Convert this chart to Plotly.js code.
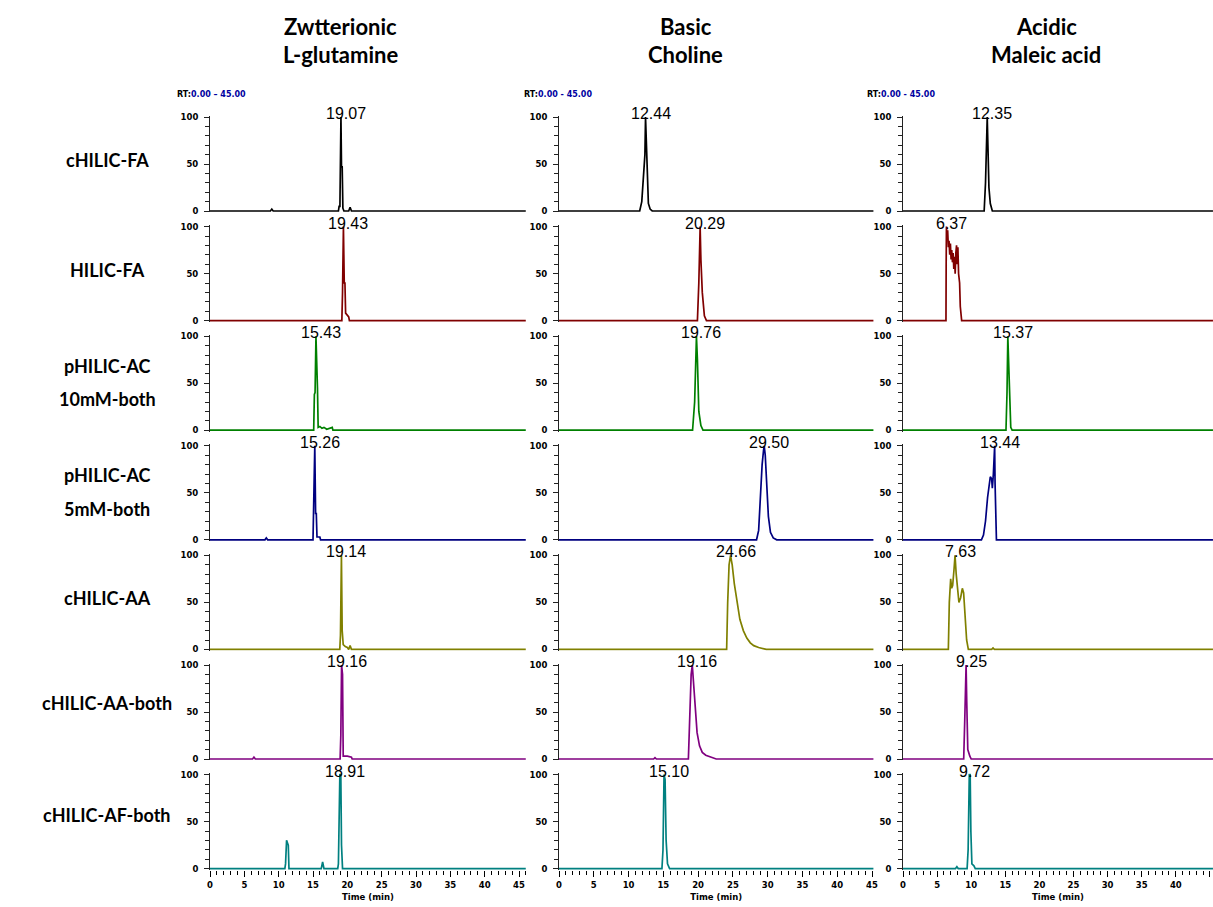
<!DOCTYPE html>
<html><head><meta charset="utf-8">
<script src="https://cdn.plot.ly/plotly-3.0.1.min.js"></script>
<style>html,body{margin:0;padding:0;background:#fff}#chart{width:1213px;height:907px}</style>
</head><body><div id="chart"></div>
<script>
// ---------- categories / labels ----------
const methodLines = [['cHILIC-FA'],['HILIC-FA'],['pHILIC-AC','10mM-both'],['pHILIC-AC','5mM-both'],['cHILIC-AA'],['cHILIC-AA-both'],['cHILIC-AF-both']];
const analyteLines = [['Zwtterionic','L-glutamine'],['Basic','Choline'],['Acidic','Maleic acid']];
const traceColors = ['#000000','#800000','#008000','#000080','#808000','#800080','#008080'];
const rtLabels = ['0.00 \u2013 45.00','0.00 - 45.00','0.00 - 45.00'];
const timeTitle = 'Time (min)';

// ---------- peak apex retention times (labels) ----------
const glnPeaks = [19.07,19.43,15.43,15.26,19.14,19.16,18.91];
const chlPeaks = [12.44,20.29,19.76,29.50,24.66,19.16,15.10];
const malPeaks = [12.35,6.37,15.37,13.44,7.63,9.25,9.72];

// ---------- L-glutamine chromatograms (time min, relative abundance %) ----------
const gln1T = [0,8.8,9.0,9.2,18.7,18.8,18.92,19.0,19.07,19.15,19.25,19.35,19.5,20.2,20.4,20.6,46];
const gln1I = [0,0,2,0,0,5,5,90,100,47,47,3,0,0,4,0,0];
const gln2T = [0,19.2,19.3,19.43,19.55,19.65,19.75,20.0,20.2,20.3,46];
const gln2I = [0,0,30,100,40,40,8,5,4,0,0];
const gln3T = [0,15.1,15.2,15.3,15.43,15.55,15.65,15.75,16.0,16.3,16.6,17.0,17.4,17.8,17.9,46];
const gln3I = [0,0,38,40,100,45,45,3,4,2,3,1,2,3,0,0];
const gln4T = [0,8.0,8.2,8.4,15.0,15.1,15.18,15.26,15.38,15.48,15.58,16.0,16.1,46];
const gln4I = [0,0,2,0,0,35,35,100,28,28,3,3,0,0];
const gln5T = [0,18.9,19.0,19.14,19.25,19.4,19.7,20.0,20.2,20.4,20.6,46];
const gln5I = [0,0,15,100,20,5,3,2,0,4,0,0];
const gln6T = [0,6.2,6.4,6.6,18.95,19.05,19.16,19.3,19.4,20.0,20.6,20.7,46];
const gln6I = [0,0,2,0,0,25,100,90,3,3,2,0,0];
const gln7T = [0,10.9,11.0,11.15,11.3,11.4,11.5,16.2,16.4,16.6,18.6,18.7,18.91,19.05,19.15,19.3,46];
const gln7I = [0,0,5,30,27,25,0,0,7,0,0,5,100,100,25,0,0];

// ---------- Choline chromatograms ----------
const chl1T = [0,11.6,11.9,12.2,12.35,12.44,12.55,12.7,12.85,13.1,13.4,46];
const chl1I = [0,0,10,45,60,100,75,40,8,2,0,0];
const chl2T = [0,19.9,20.1,20.29,20.4,20.6,20.9,21.2,46];
const chl2I = [0,0,40,100,65,30,5,0,0];
const chl3T = [0,19.2,19.5,19.65,19.76,19.9,20.1,20.4,20.7,46];
const chl3I = [0,0,30,70,100,75,20,5,0,0];
const chl4T = [0,28.4,28.7,28.95,29.2,29.4,29.5,29.65,29.85,30.1,30.4,30.8,31.3,46];
const chl4I = [0,0,10,50,80,95,100,90,60,25,8,2,0,0];
const chl5T = [0,24.1,24.25,24.45,24.66,24.9,25.2,25.6,26.0,26.5,27.0,27.5,28.0,28.7,29.6,29.8,46];
const chl5I = [0,0,50,90,100,90,70,50,32,20,12,7,4,2,1,0,0];
const chl6T = [0,13.6,13.8,14.0,18.6,18.8,19.0,19.16,19.35,19.6,19.85,20.2,20.6,21.1,21.8,22.6,46];
const chl6I = [0,0,1.5,0,0,40,90,100,80,50,28,14,7,4,2,0,0];
const chl7T = [0,14.8,14.95,15.1,15.25,15.4,15.6,15.9,46];
const chl7I = [0,0,20,100,95,30,5,0,0];

// ---------- Maleic acid chromatograms ----------
const mal1T = [0,11.9,12.1,12.25,12.35,12.45,12.6,12.8,13.1,46];
const mal1I = [0,0,30,85,100,70,25,8,0,0];
const mal2T = [0,6.30,6.33,6.37,6.45,6.55,6.65,6.75,6.85,6.95,7.05,7.15,7.25,7.35,7.45,7.55,7.65,7.75,7.85,7.95,8.05,8.15,8.3,8.4,8.5,8.6,46];
const mal2I = [0,0,60,100,88,96,78,85,70,82,65,75,62,72,55,68,50,72,80,60,78,50,40,15,5,0,0];
const mal3T = [0,15.1,15.25,15.37,15.5,15.65,15.8,16.0,46];
const mal3I = [0,0,40,100,70,20,3,0,0];
const mal4T = [0,11.5,11.8,12.1,12.4,12.6,12.8,13.0,13.1,13.25,13.35,13.44,13.5,13.6,13.7,46];
const mal4I = [0,0,5,20,45,60,67,65,55,70,90,100,60,10,0,0];
const mal5T = [0,6.65,6.79,6.99,7.13,7.28,7.48,7.63,7.8,8.0,8.2,8.45,8.7,8.89,9.09,9.33,9.58,13.0,13.2,13.4,46];
const mal5I = [0,0,50,75,65,68,85,100,80,60,50,55,65,60,40,10,0,0,1.5,0,0];
const mal6T = [0,8.9,9.05,9.15,9.25,9.35,9.5,9.8,10.0,46];
const mal6I = [0,0,40,95,100,60,10,3,0,0];
const mal7T = [0,7.7,7.9,8.1,9.4,9.55,9.72,9.85,9.95,10.1,10.4,10.6,46];
const mal7I = [0,0,2,0,0,20,100,100,40,5,3,0,0];

const seriesT = [
  [gln1T,chl1T,mal1T],[gln2T,chl2T,mal2T],[gln3T,chl3T,mal3T],[gln4T,chl4T,mal4T],
  [gln5T,chl5T,mal5T],[gln6T,chl6T,mal6T],[gln7T,chl7T,mal7T]];
const seriesI = [
  [gln1I,chl1I,mal1I],[gln2I,chl2I,mal2I],[gln3I,chl3I,mal3I],[gln4I,chl4I,mal4I],
  [gln5I,chl5I,mal5I],[gln6I,chl6I,mal6I],[gln7I,chl7I,mal7I]];
const peaks = [glnPeaks, chlPeaks, malPeaks];

// ---------- layout geometry (pixels) ----------
const W = 1213, H = 907;
const px = x => x / W, py = y => 1 - y / H;
const colX0 = [210, 559, 903];
const colPPM = [6.867, 6.956, 6.82];
const colMax = [46, 45.2, 45.45];
const rowZero = r => 211 + r * 109.6;
const rowPPU = 0.94;
const yLo = -1.5, yHi = 101.5;
const tickFont = {family: 'DejaVu Sans', size: 8.5, color: '#000', weight: 'bold'};

const data = [];
const layout = {
  width: W, height: H,
  margin: {l: 0, r: 0, t: 0, b: 0},
  showlegend: false,
  paper_bgcolor: '#fff', plot_bgcolor: '#fff',
  annotations: []
};

for (let r = 0; r < 7; r++) {
  for (let c = 0; c < 3; c++) {
    const k = r * 3 + c + 1;
    const xa = 'x' + (k === 1 ? '' : k), ya = 'y' + (k === 1 ? '' : k);
    data.push({
      type: 'scatter', mode: 'lines',
      x: seriesT[r][c], y: seriesI[r][c],
      xaxis: xa, yaxis: ya,
      line: {color: traceColors[r], width: 1.7, shape: 'linear'},
      hoverinfo: 'skip'
    });
    const x0 = colX0[c], x1 = colX0[c] + colMax[c] * colPPM[c];
    const y0 = rowZero(r);
    const bottom = y0 - yLo * rowPPU, top = y0 - yHi * rowPPU;
    const bottomRow = (r === 6);
    layout['xaxis' + (k === 1 ? '' : k)] = {
      domain: [px(x0), Math.min(1, px(x1))],
      anchor: ya,
      range: [0, colMax[c]],
      showgrid: false, zeroline: false, showline: false,
      showticklabels: bottomRow,
      ticks: bottomRow ? 'outside' : '',
      tick0: 0, dtick: 5, ticklen: 6, tickwidth: 1, tickcolor: '#000',
      minor: bottomRow ? {dtick: 1, tick0: 0, ticks: 'outside', ticklen: 4, tickwidth: 1, tickcolor: '#000'} : {},
      tickfont: tickFont,
      ticklabelstandoff: 1,
      title: bottomRow ? {text: timeTitle, font: tickFont, standoff: 4} : {text: ''},
      fixedrange: true
    };
    layout['yaxis' + (k === 1 ? '' : k)] = {
      domain: [py(bottom), py(top)],
      anchor: xa,
      range: [yLo, yHi],
      showgrid: false, zeroline: false,
      showline: true, linecolor: '#222', linewidth: 1,
      tickvals: [0, 50, 100], ticktext: ['0', '50', '100'],
      ticks: 'outside', ticklen: 5, tickwidth: 1, tickcolor: '#222',
      minor: {tickvals: [10, 20, 30, 40, 60, 70, 80, 90], ticks: 'outside', ticklen: 4, tickwidth: 1, tickcolor: '#222'},
      tickfont: tickFont,
      ticklabelstandoff: 4,
      fixedrange: true
    };
    // peak label
    layout.annotations.push({
      xref: xa, yref: ya, x: peaks[c][r], y: 100,
      text: peaks[c][r].toFixed(2), showarrow: false,
      xanchor: 'center', yanchor: 'bottom', xshift: 5, yshift: -7,
      font: {family: 'Liberation Sans, Arial', size: 16, color: '#000'}
    });
  }
}

// column titles
const titleX = [340, 686, 1046];
const titleY = [27, 55];
analyteLines.forEach((lines, c) => {
  lines.forEach((t, j) => layout.annotations.push({
    xref: 'paper', yref: 'paper', x: px(titleX[c]), y: py(titleY[j]),
    text: t, showarrow: false, xanchor: 'center', yanchor: 'middle',
    font: {family: 'Lato', size: 22, color: '#000', weight: 'bold'}
  }));
});

// row labels
const rowLabelY = [[160], [270], [366, 399], [475, 509], [598], [703], [815]];
methodLines.forEach((lines, r) => {
  lines.forEach((t, j) => layout.annotations.push({
    xref: 'paper', yref: 'paper', x: px(107), y: py(rowLabelY[r][j]),
    text: t, showarrow: false, xanchor: 'center', yanchor: 'middle',
    font: {family: 'Lato', size: 18, color: '#000', weight: 'bold'}
  }));
});

// RT range labels
const rtX = [175, 522, 865];
rtLabels.forEach((t, c) => layout.annotations.push({
  xref: 'paper', yref: 'paper', x: px(rtX[c]), y: py(95),
  text: 'RT:<span style="color:#0000a0">' + t + '</span>', showarrow: false,
  xanchor: 'left', yanchor: 'middle',
  font: {family: 'DejaVu Sans', size: 8, color: '#000', weight: 'bold'}
}));

Plotly.newPlot('chart', data, layout, {staticPlot: true, displayModeBar: false});
</script>
</body></html>
